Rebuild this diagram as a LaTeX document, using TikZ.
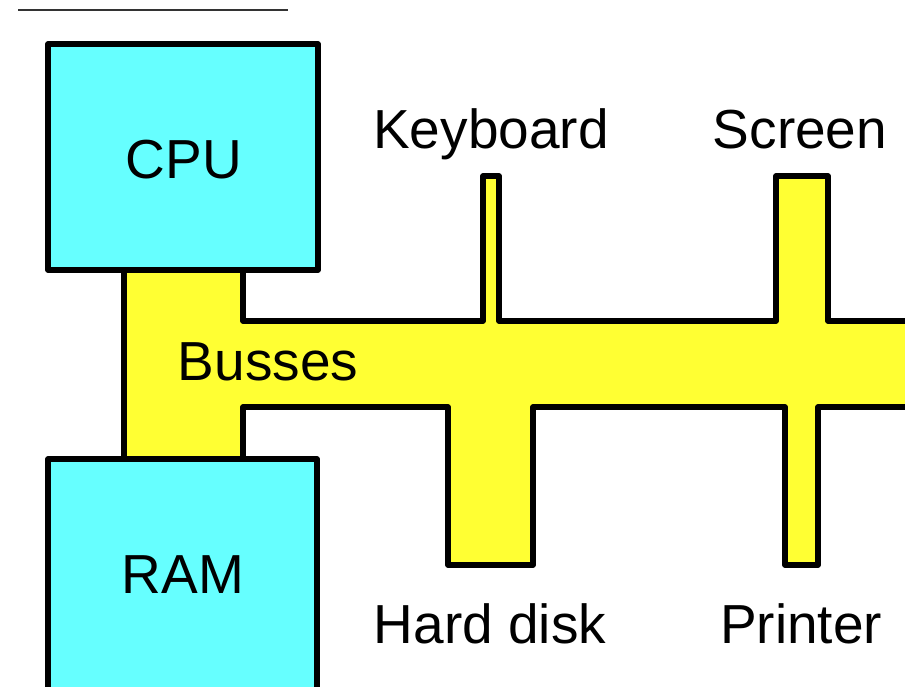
\documentclass[tikz,border=0pt]{standalone}
\usepackage{fontspec}
\setmainfont{Liberation Sans}
\usepackage{tikz}

\definecolor{unitcyan}{RGB}{102,255,255}
\definecolor{busyellow}{RGB}{255,255,51}

\begin{document}
\begin{tikzpicture}[x=1pt, y=-1pt,
    outline/.style={draw=black, line width=5.5pt, line join=round},
    unitbox/.style={outline, fill=unitcyan, rectangle, inner sep=0pt},
    lbl/.style={anchor=base, inner sep=0pt, font=\fontsize{55}{60}\selectfont}]

  \useasboundingbox (0,0) rectangle (905,686);

  % short rule at the top
  \draw[gray!40!black, line width=1.8pt] (18,10) -- (288,10);

  % bus outline (stem between the units, main line, four stubs)
  \draw[outline, fill=busyellow]
    (124,250) -- (243,250) -- (243,321)
    -- (483,321) -- (483,176) -- (499,176) -- (499,321)   % keyboard stub
    -- (776,321) -- (776,176) -- (828,176) -- (828,321)   % screen stub
    -- (915,321) -- (915,407)
    -- (818,407) -- (818,565) -- (785,565) -- (785,407)   % printer stub
    -- (533,407) -- (533,565) -- (448,565) -- (448,407)   % hard disk stub
    -- (243,407) -- (243,480) -- (124,480) -- cycle;

  % units
  \node[unitbox, minimum width=270pt, minimum height=226pt] (cpu) at (183,157) {};
  \node[unitbox, minimum width=269pt, minimum height=240pt] (ram) at (182.5,579) {};

  % labels
  \node[lbl] (cpulbl)  at (184,178) {CPU};
  \node[lbl] (ramlbl)  at (183,593) {RAM};
  \node[lbl] (buslbl)  at (268,380) {Busses};
  \node[lbl] (keyb)    at (491,148) {Keyboard};
  \node[lbl] (scrn)    at (800,148) {Screen};
  \node[lbl] (hdisk)   at (490,643) {Hard disk};
  \node[lbl] (prntr)   at (801,643) {Printer};

\end{tikzpicture}
\end{document}
